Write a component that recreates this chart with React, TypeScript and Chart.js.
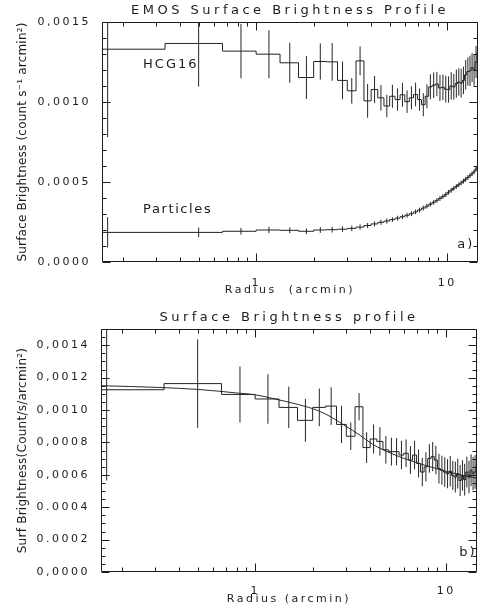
import React, { useEffect, useRef } from 'react';
import { Chart, registerables } from 'chart.js';

Chart.register(...registerables);

// ---------------- data ----------------
const radius = [
  0.167, 0.5, 0.833, 1.167, 1.5, 1.833, 2.167, 2.5, 2.833, 3.167, 3.5, 3.833, 4.167, 4.5, 4.833,
  5.167, 5.5, 5.833, 6.167, 6.5, 6.833, 7.167, 7.5, 7.833, 8.167, 8.5, 8.833, 9.167, 9.5, 9.833,
  10.167, 10.5, 10.833, 11.167, 11.5, 11.833, 12.167, 12.5, 12.833, 13.167, 13.5, 13.833, 14.167, 14.5, 14.833,
];

const hcg16 = [
  0.00133, 0.001366, 0.001318, 0.001299, 0.001245, 0.001153, 0.001253, 0.001251, 0.001135, 0.00107,
  0.001257, 0.001007, 0.001078, 0.001026, 0.000975, 0.001036, 0.001015, 0.001045, 0.001002, 0.001026,
  0.001047, 0.001015, 0.000983, 0.001036, 0.001095, 0.001105, 0.001112, 0.001088, 0.001092, 0.00108,
  0.001078, 0.0011, 0.001095, 0.001115, 0.001125, 0.001118, 0.001135, 0.00117, 0.00119, 0.001195,
  0.001215, 0.0012, 0.00125, 0.00131, 0.00124,
];
const hcg16Err = [
  0.00055, 0.00027, 0.00017, 0.00015, 0.000125, 0.000134, 0.000113, 0.000118, 0.000118, 0.00008,
  0.00009, 0.000105, 0.000085, 0.00008, 0.00007, 0.000072, 0.00007, 0.000075, 0.00007, 0.000072,
  0.000074, 0.00007, 0.000072, 0.000075, 0.000078, 0.00008, 0.000076, 0.000082, 0.00008, 0.000084,
  0.000082, 0.000086, 0.00008, 0.000088, 0.000085, 0.00009, 0.000086, 0.000092, 0.000088, 0.000095,
  0.00009, 0.000098, 0.0001, 0.000105, 0.0001,
];

const particles = [
  0.000185, 0.000185, 0.000192, 0.0002, 0.000198, 0.000192, 0.0002, 0.000202, 0.000205, 0.00021,
  0.000218, 0.000228, 0.000238, 0.000248, 0.000256, 0.000265, 0.000274, 0.000283, 0.000292, 0.000302,
  0.000313, 0.000325, 0.000337, 0.000349, 0.000361, 0.000373, 0.000385, 0.000397, 0.000409, 0.000421,
  0.000436, 0.000448, 0.00046, 0.000472, 0.000483, 0.000494, 0.000505, 0.000517, 0.000528, 0.00054,
  0.000552, 0.000563, 0.000582, 0.0006, 0.00062,
];
const particlesErr = [
  0.000095, 0.00003, 0.000021, 0.00002, 0.000018, 0.000018, 0.000018, 0.000018, 0.000017, 0.000017,
  0.000017, 0.000016, 0.000016, 0.000016, 0.000016, 0.000015, 0.000015, 0.000015, 0.000015, 0.000015,
  0.000015, 0.000015, 0.000015, 0.000015, 0.000015, 0.000015, 0.000015, 0.000015, 0.000015, 0.000015,
  0.000015, 0.000015, 0.000015, 0.000015, 0.000015, 0.000015, 0.000015, 0.000015, 0.000015, 0.000015,
  0.000015, 0.000015, 0.000016, 0.000016, 0.000016,
];

const netSB = [
  0.001125, 0.001163, 0.001096, 0.001068, 0.001016, 0.000936, 0.001016, 0.001024, 0.000911, 0.000838,
  0.00102, 0.000768, 0.000821, 0.000806, 0.000754, 0.000743, 0.000743, 0.000722, 0.000733, 0.000691,
  0.000722, 0.00067, 0.000617, 0.000649, 0.000701, 0.000712, 0.000691, 0.000638, 0.000628, 0.000617,
  0.000607, 0.000622, 0.000596, 0.000586, 0.000607, 0.000565, 0.000596, 0.00057, 0.000617, 0.000586,
  0.000628, 0.000607, 0.000617, 0.00066, 0.000596,
];
const netSBErr = [
  0.00056, 0.000273, 0.000173, 0.000153, 0.000128, 0.000132, 0.000116, 0.000116, 0.000115, 0.000085,
  0.000084, 0.000095, 0.00009, 0.000088, 0.000085, 0.000086, 0.000084, 0.000088, 0.000085, 0.000086,
  0.000088, 0.000086, 0.000088, 0.00009, 0.000088, 0.00009, 0.000088, 0.000092, 0.00009, 0.000092,
  0.00009, 0.000094, 0.00009, 0.000095, 0.000092, 0.000096, 0.000094, 0.000098, 0.000095, 0.0001,
  0.000098, 0.000102, 0.000104, 0.000108, 0.000104,
];

const modelRadius = [0.156, 0.3, 0.503, 0.817, 1.0, 1.27, 1.69, 2.15, 2.53, 2.98, 3.5, 4.11, 4.83, 5.68, 6.95, 8.5, 10, 12.7, 14.5];
const modelSB = [0.00115, 0.00114, 0.001127, 0.001104, 0.001094, 0.001068, 0.001033, 0.000995, 0.000953, 0.0009, 0.000848, 0.000789, 0.000747, 0.000712, 0.000676, 0.000645, 0.000621, 0.000592, 0.000579];

// axes / ticks
const xRange = [0.156, 14.5];
const xMajorTicks = [1, 10];
const xMajorLabels = ['1', '10'];
const xMinorTicks = [0.2, 0.3, 0.4, 0.5, 0.6, 0.7, 0.8, 0.9, 2, 3, 4, 5, 6, 7, 8, 9];
const yRange = [0, 0.0015];
const yTopMajor = [0, 0.0005, 0.001, 0.0015];
const yTopLabels = ['0,0000', '0,0005', '0,0010', '0,0015'];
const yTopMinorStep = 0.0001;
const yBotMajor = [0, 0.0002, 0.0004, 0.0006, 0.0008, 0.001, 0.0012, 0.0014];
const yBotLabels = ['0,0000', '0.0002', '0.0004', '0,0006', '0,0008', '0,0010', '0,0012', '0,0014'];
const yBotMinorStep = 0.00005;

// ---------------- helpers ----------------
const FONT = '"DejaVu Sans", "Noto Sans", sans-serif';
const INK = '#1c1c1c';

function stepPoints(r: number[], v: number[], xmin: number) {
  const pts: { x: number; y: number }[] = [];
  for (let i = 0; i < r.length; i++) {
    const left = i === 0 ? r[0] - (r[1] - r[0]) / 2 : (r[i - 1] + r[i]) / 2;
    pts.push({ x: Math.max(left, xmin), y: v[i] });
  }
  const n = r.length;
  pts.push({ x: r[n - 1] + (r[n - 1] - r[n - 2]) / 2, y: v[n - 1] });
  return pts;
}

function errPoints(r: number[], v: number[], e: number[]) {
  const pts: { x: number; y: number | null }[] = [];
  r.forEach((x, i) => {
    pts.push({ x, y: v[i] - e[i] }, { x, y: v[i] + e[i] }, { x, y: null });
  });
  return pts;
}

function makeSpacingPlugin(tickSpacing: string, titleSpacing: string, yTitleSpacing: string) {
  return {
    id: 'spacing',
    beforeDraw(chart: any) {
      const ctx = chart.ctx as any;
      ctx.letterSpacing = tickSpacing;
      const ys = chart.scales.y;
      if (ys && !ys.__sp) {
        const orig = ys.drawTitle.bind(ys);
        ys.drawTitle = () => {
          const prev = ctx.letterSpacing;
          ctx.letterSpacing = yTitleSpacing;
          orig();
          ctx.letterSpacing = prev;
        };
        ys.__sp = true;
      }
      const tb = chart.titleBlock;
      if (tb && !tb.__sp) {
        const o = tb.draw.bind(tb);
        tb.draw = (area: any) => {
          const prev = ctx.letterSpacing;
          ctx.letterSpacing = titleSpacing;
          o(area);
          ctx.letterSpacing = prev;
        };
        tb.__sp = true;
      }
    },
  };
}

function makeFramePlugin(yMajor: number[], yMinorStep: number) {
  return {
    id: 'frame',
    afterDatasetsDraw(chart: any) {
      const { ctx, chartArea: a, scales } = chart;
      const x = scales.x;
      const y = scales.y;
      const L = Math.round(a.left) + 0.5;
      const R = Math.round(a.right) - 0.5;
      const T = Math.round(a.top) + 0.5;
      const B = Math.round(a.bottom) - 0.5;
      ctx.save();
      ctx.strokeStyle = INK;
      ctx.lineWidth = 1;
      ctx.beginPath();
      ctx.moveTo(L, T);
      ctx.lineTo(R, T);
      ctx.lineTo(R, B);
      ctx.lineTo(L, B);
      ctx.closePath();
      const xt: [number, number][] = [
        ...xMajorTicks.map((v) => [v, 8] as [number, number]),
        ...xMinorTicks.map((v) => [v, 4] as [number, number]),
      ];
      for (const [v, len] of xt) {
        const px = Math.round(x.getPixelForValue(v)) + 0.5;
        ctx.moveTo(px, B);
        ctx.lineTo(px, B - len);
        ctx.moveTo(px, T);
        ctx.lineTo(px, T + len);
      }
      const n = Math.round((yRange[1] - yRange[0]) / yMinorStep);
      for (let k = 0; k <= n; k++) {
        const v = yRange[0] + k * yMinorStep;
        const major = yMajor.some((m) => Math.abs(m - v) < yMinorStep / 10);
        const len = major ? 8 : 4;
        const py = Math.round(y.getPixelForValue(v)) + 0.5;
        ctx.moveTo(L, py);
        ctx.lineTo(L + len, py);
        ctx.moveTo(R, py);
        ctx.lineTo(R - len, py);
      }
      ctx.stroke();
      ctx.restore();
    },
  };
}

type Note = { text: string; x: number; y: number; size: number; spacing: string };
function makeNotesPlugin(items: Note[]) {
  return {
    id: 'notes',
    afterDraw(chart: any) {
      const { ctx, scales } = chart;
      ctx.save();
      for (const n of items) {
        ctx.font = `${n.size}px ${FONT}`;
        (ctx as any).letterSpacing = n.spacing;
        ctx.fillStyle = INK;
        ctx.textAlign = 'left';
        ctx.textBaseline = 'middle';
        ctx.fillText(n.text, scales.x.getPixelForValue(n.x), scales.y.getPixelForValue(n.y));
      }
      ctx.restore();
    },
  };
}

function baseOptions(p: {
  title: string;
  titlePad: { top: number; bottom: number };
  xTitle: string;
  xTickPad: number;
  xTitlePadBottom: number;
  xHeight: number;
  yTitle: string;
  yWidth: number;
  yMajor: number[];
  yLabels: string[];
  padRight: number;
}) {
  return {
    animation: false,
    responsive: false,
    devicePixelRatio: 1,
    layout: { padding: { left: 0, right: p.padRight, top: 0, bottom: 0 } },
    plugins: {
      legend: { display: false },
      tooltip: { enabled: false },
      title: {
        display: true,
        text: p.title,
        fullSize: false,
        color: INK,
        font: { family: FONT, size: 13, weight: 'normal' },
        padding: p.titlePad,
      },
    },
    scales: {
      x: {
        type: 'logarithmic',
        min: xRange[0],
        max: xRange[1],
        bounds: 'data',
        grid: { display: false },
        border: { display: false },
        afterBuildTicks: (s: any) => {
          s.ticks = xMajorTicks.map((v) => ({ value: v, major: true }));
        },
        afterFit: (s: any) => {
          s.height = p.xHeight;
        },
        ticks: {
          autoSkip: false,
          maxRotation: 0,
          padding: p.xTickPad,
          color: INK,
          font: { family: FONT, size: 11 },
          callback: (_v: any, i: number) => xMajorLabels[i],
        },
        title: {
          display: true,
          text: p.xTitle,
          color: INK,
          font: { family: FONT, size: 11 },
          padding: { top: 0, bottom: p.xTitlePadBottom },
        },
      },
      y: {
        type: 'linear',
        min: yRange[0],
        max: yRange[1],
        grid: { display: false },
        border: { display: false },
        afterBuildTicks: (s: any) => {
          s.ticks = p.yMajor.map((v) => ({ value: v }));
        },
        afterFit: (s: any) => {
          s.width = p.yWidth;
        },
        ticks: {
          autoSkip: false,
          padding: 3,
          color: INK,
          font: { family: FONT, size: 11 },
          callback: (_v: any, i: number) => p.yLabels[i],
        },
        title: {
          display: true,
          text: p.yTitle,
          color: INK,
          font: { family: FONT, size: 12 },
          padding: { top: 15.5, bottom: 0 },
        },
      },
    },
  };
}

const lineStyle = {
  borderColor: '#222',
  borderWidth: 1,
  pointRadius: 0,
  fill: false,
  tension: 0,
};

function topConfig(): any {
  return {
    type: 'line',
    data: {
      datasets: [
        { label: 'HCG16', data: stepPoints(radius, hcg16, xRange[0]), stepped: 'before', ...lineStyle },
        { label: 'HCG16 err', data: errPoints(radius, hcg16, hcg16Err), spanGaps: false, ...lineStyle, borderColor: '#262626' },
        { label: 'Particles', data: stepPoints(radius, particles, xRange[0]), stepped: 'before', ...lineStyle },
        { label: 'Particles err', data: errPoints(radius, particles, particlesErr), spanGaps: false, ...lineStyle, borderColor: '#262626' },
      ],
    },
    options: baseOptions({
      title: 'EMOS Surface Brightness Profile',
      titlePad: { top: 3.2, bottom: 3.2 },
      xTitle: 'Radius  (arcmin)',
      xTickPad: 6.6,
      xTitlePadBottom: 2.8,
      xHeight: 38,
      yTitle: 'Surface Brightness (count s⁻¹ arcmin²)',
      yWidth: 102,
      yMajor: yTopMajor,
      yLabels: yTopLabels,
      padRight: 2,
    }),
    plugins: [
      makeSpacingPlugin('2.5px', '3.5px', '0.2px'),
      makeFramePlugin(yTopMajor, yTopMinorStep),
      makeNotesPlugin([
        { text: 'HCG16', x: 0.256, y: 0.001231, size: 13, spacing: '2px' },
        { text: 'Particles', x: 0.256, y: 0.000325, size: 13, spacing: '1.6px' },
        { text: 'a)', x: 11.3, y: 0.000106, size: 13, spacing: '2px' },
      ]),
    ],
  };
}

function bottomConfig(): any {
  return {
    type: 'line',
    data: {
      datasets: [
        { label: 'Profile', data: stepPoints(radius, netSB, xRange[0]), stepped: 'before', ...lineStyle },
        { label: 'Profile err', data: errPoints(radius, netSB, netSBErr), spanGaps: false, ...lineStyle, borderColor: '#262626' },
        {
          label: 'Model',
          data: modelRadius.map((r, i) => ({ x: r, y: modelSB[i] })),
          ...lineStyle,
          borderColor: '#2a2a2a',
          cubicInterpolationMode: 'monotone',
        },
      ],
    },
    options: baseOptions({
      title: 'Surface Brightness profile',
      titlePad: { top: 9.7, bottom: 3.7 },
      xTitle: 'Radius (arcmin)',
      xTickPad: 5,
      xTitlePadBottom: 3.8,
      xHeight: 38,
      yTitle: 'Surf Brightness(Count/s/arcmin²)',
      yWidth: 101,
      yMajor: yBotMajor,
      yLabels: yBotLabels,
      padRight: 3,
    }),
    plugins: [
      makeSpacingPlugin('2.5px', '3.5px', '0.25px'),
      makeFramePlugin(yBotMajor, yBotMinorStep),
      makeNotesPlugin([{ text: 'b)', x: 11.7, y: 0.000117, size: 13, spacing: '2px' }]),
    ],
  };
}

function ChartCanvas({ make, top, height }: { make: () => any; top: number; height: number }) {
  const ref = useRef<HTMLCanvasElement>(null);
  useEffect(() => {
    const chart = new Chart(ref.current as HTMLCanvasElement, make());
    return () => chart.destroy();
  }, [make]);
  return (
    <canvas
      ref={ref}
      width={480}
      height={height}
      style={{ position: 'absolute', left: 0, top, width: 480, height, display: 'block' }}
    />
  );
}

export default function App() {
  return (
    <div style={{ position: 'absolute', left: 0, top: 0, width: 480, height: 610, background: '#fff' }}>
      <ChartCanvas make={topConfig} top={0} height={300} />
      <ChartCanvas make={bottomConfig} top={300} height={310} />
    </div>
  );
}
